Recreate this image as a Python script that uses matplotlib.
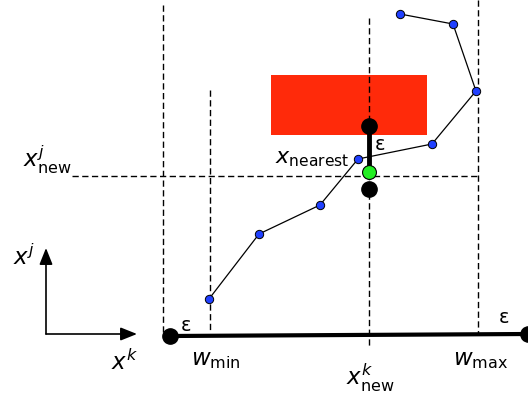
import matplotlib.pyplot as plt
from matplotlib.patches import Rectangle, FancyArrowPatch

plt.rcParams["mathtext.fontset"] = "dejavusans"
plt.rcParams["font.family"] = "DejaVu Sans"

# canvas in pixel units (y grows downward)
W, H = 528, 398

# blue sample path
path_x = [209, 259, 320, 358, 432, 476, 453, 400]
path_y = [299, 234, 205, 159, 144, 91, 24, 14]

# dashed guide lines: (x0, y0, x1, y1)
guides = [
    (163, 5, 163, 333),
    (210, 90, 210, 330),
    (369, 18, 369, 347),
    (478, 0, 478, 333),
    (72, 176, 478, 176),
]

# obstacle box
box_x, box_y, box_w, box_h = 271, 75, 156, 60

# extension segment and its end points
seg_x = [369, 369]
seg_y = [126, 172]
ends_x = [369, 369]
ends_y = [126, 189]
new_x, new_y = 369, 172

# bottom range bar
bar_x = [170, 528]
bar_y = [336, 334]

labels = [
    (23, 168, r"$x^{j}_{\mathrm{new}}$", 16.5),
    (275, 163, r"$x_{\mathrm{nearest}}$", 16),
    (375, 150, r"ε", 14),
    (13, 265, r"$x^{j}$", 16.5),
    (111, 370, r"$x^{k}$", 16.5),
    (181, 331, r"ε", 14),
    (191, 365, r"$w_{\mathrm{min}}$", 16.5),
    (346, 385, r"$x^{k}_{\mathrm{new}}$", 16.5),
    (453, 365, r"$w_{\mathrm{max}}$", 16.5),
    (499, 323, r"ε", 14),
]

fig = plt.figure(figsize=(W / 100, H / 100), dpi=100)
ax = fig.add_axes([0, 0, 1, 1])
ax.set_xlim(0, W)
ax.set_ylim(H, 0)
ax.axis("off")

ax.add_patch(Rectangle((box_x, box_y), box_w, box_h, color="#ff2a0a", lw=0, zorder=1))

for x0, y0, x1, y1 in guides:
    ax.plot([x0, x1], [y0, y1], color="black", lw=1.0, dashes=(4.5, 2.5), zorder=2)

ax.plot(path_x, path_y, color="black", lw=0.9, zorder=3)
ax.plot(path_x, path_y, "o", ms=6, mfc="#2040ff", mec="black", mew=0.7, zorder=4)

ax.plot(bar_x, bar_y, color="black", lw=3, zorder=3, solid_capstyle="butt")
ax.plot(bar_x, bar_y, "o", ms=11, color="black", zorder=4, clip_on=False)

ax.plot(seg_x, seg_y, color="black", lw=3.5, zorder=3)
ax.plot(ends_x, ends_y, "o", ms=11, color="black", zorder=4)
ax.plot(new_x, new_y, "o", ms=10, mfc="#22ee22", mec="black", mew=0.8, zorder=5)

# coordinate frame arrows
arrow = "-|>,head_length=10,head_width=4"
ax.add_patch(FancyArrowPatch((46, 334), (46, 248), arrowstyle=arrow,
                             mutation_scale=1, color="black", lw=1.2, shrinkA=0, shrinkB=0))
ax.add_patch(FancyArrowPatch((46, 334), (137, 334), arrowstyle=arrow,
                             mutation_scale=1, color="black", lw=1.2, shrinkA=0, shrinkB=0))

for x, y, s, size in labels:
    ax.text(x, y, s, fontsize=size, ha="left", va="baseline", zorder=6)

fig.savefig("out.png", dpi=100)
